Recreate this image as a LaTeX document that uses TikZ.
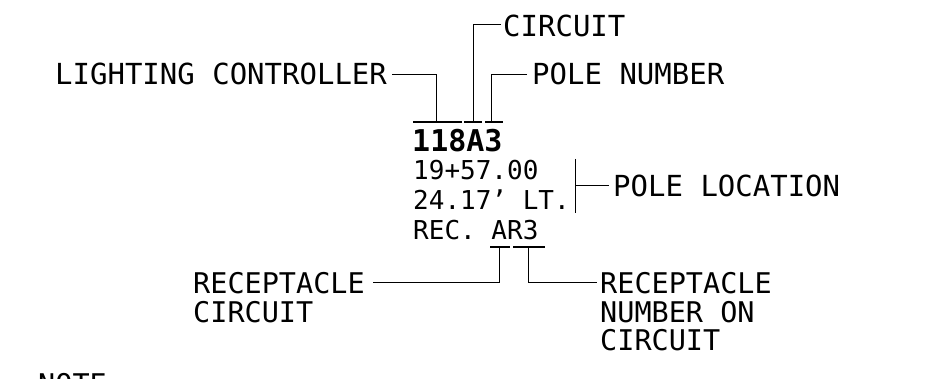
\documentclass[tikz,border=0pt]{standalone}
\usepackage{fontspec}
\setmainfont{DejaVu Sans Mono}
\usetikzlibrary{calc}
\begin{document}
\begin{tikzpicture}[x=1pt,y=-1pt,
  lbl/.style={inner sep=0pt, anchor=base west, font=\fontsize{29}{31}\selectfont},
  lbls/.style={inner sep=0pt, anchor=base west, font=\fontsize{28.5}{30}\selectfont},
  val/.style={inner sep=0pt, anchor=base west, font=\fontsize{26}{28}\selectfont},
  ident/.style={inner sep=0pt, anchor=base west, font=\bfseries\fontsize{30}{32}\selectfont},
  leader/.style={line width=1pt, black},
  bar/.style={line width=1.4pt, black}]
\useasboundingbox (0,0) rectangle (933,379);

% texts
\node[lbl] (lc) at (55,85) {LIGHTING CONTROLLER};
\node[lbl] (ci) at (503,37) {CIRCUIT};
\node[lbl] (pn) at (532,85) {POLE NUMBER};
\node[ident] (id) at (412,152) {118A3};
\node[val] (sta) at (413,180) {19+57.00};
\node[val] (off) at (413,210) {24.17' LT.};
\node[val] (rec) at (413,240) {REC. AR3};
\node[lbl] (pl) at (613,197) {POLE LOCATION};
\node[lbls] (rc1) at (193,293) {RECEPTACLE};
\node[lbls] (rc2) at (193,322) {CIRCUIT};
\node[lbls] (rn1) at (600,293) {RECEPTACLE};
\node[lbls] (rn2) at (600,322) {NUMBER ON};
\node[lbls] (rn3) at (600,350) {CIRCUIT};
\begin{scope}
  \clip (0,0) rectangle (933,379);
  \node[lbls] (note) at (38,394) {NOTE};
\end{scope}

% tick bars above 118A3
\coordinate (b1l) at (413,122); \coordinate (b1r) at (462,122); \coordinate (b1) at (436,122);
\coordinate (b2l) at (464,122); \coordinate (b2r) at (482,122); \coordinate (b2) at (473,122);
\coordinate (b3l) at (485,122); \coordinate (b3r) at (503,122); \coordinate (b3) at (491,122);
\draw[bar] (b1l) -- (b1r);
\draw[bar] (b2l) -- (b2r);
\draw[bar] (b3l) -- (b3r);

% leaders to the top labels
\draw[leader] ($(lc.base east)+(5,-10)$) -| (b1);
\draw[leader] ($(ci.base west)+(-2,-12)$) -| (b2);
\draw[leader] ($(pn.base west)+(-5,-10)$) -| (b3);

% pole location bracket
\coordinate (plt) at (575,159);
\coordinate (plb) at (575,213);
\coordinate (plm) at (575,186);
\draw[leader] (plt) -- (plb);
\draw[leader] (plm) -- ($(pl.base west)+(-4,-11)$);

% receptacle bars below AR3
\coordinate (r1l) at (490,247); \coordinate (r1r) at (510,247); \coordinate (r1) at (499,247);
\coordinate (r2l) at (513,247); \coordinate (r2r) at (545,247); \coordinate (r2) at (528,247);
\draw[bar] (r1l) -- (r1r);
\draw[bar] (r2l) -- (r2r);
\draw[leader] (r1) |- ($(rc1.base east)+(8,-11)$);
\draw[leader] (r2) |- ($(rn1.base west)+(-3,-11)$);
\end{tikzpicture}
\end{document}
